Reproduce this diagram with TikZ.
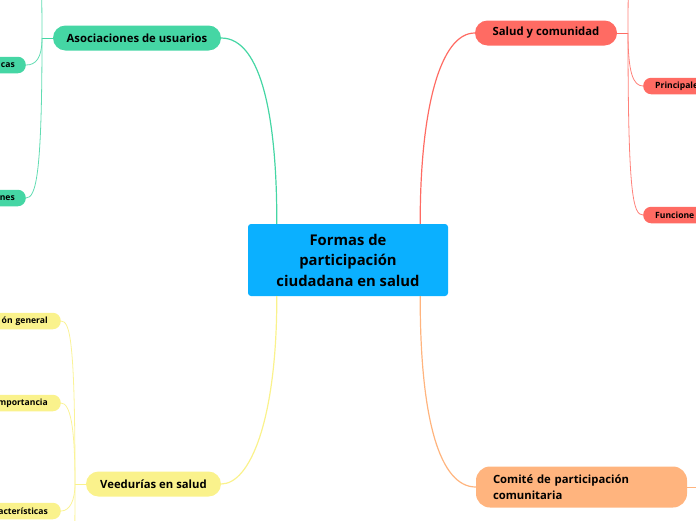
\documentclass[tikz,border=0pt]{standalone}
\usepackage{fontspec}
\setmainfont{Open Sans}
\usetikzlibrary{positioning}

\definecolor{rootblue}{HTML}{0BB0FF}
\definecolor{usergreen}{HTML}{45D6A4}
\definecolor{saludred}{HTML}{FF6B63}
\definecolor{veedyellow}{HTML}{FAF28C}
\definecolor{comiteorange}{HTML}{FFB47E}

\begin{document}
\begin{tikzpicture}[x=1pt, y=-1pt,
    branch/.style={rounded corners=12.5pt, minimum height=25pt, inner sep=0pt,
        font=\bfseries\fontsize{11.3}{13}\selectfont},
    leaf/.style={rounded corners=8pt, minimum height=16.5pt, inner ysep=0pt,
        text width=60pt, font=\bfseries\fontsize{8.6}{10}\selectfont},
    link/.style={line width=1.2pt},
    sublink/.style={line width=0.8pt}]

\useasboundingbox (0,0) rectangle (696,520);
\clip (0,0) rectangle (696,520);

% Central topic
\node[fill=rootblue, rounded corners=3pt, minimum width=200pt, minimum height=72pt,
    align=center, font=\bfseries\fontsize{14.8}{20.5}\selectfont] (root) at (348,260)
    {Formas de\\participación\\ciudadana en salud};

% Main branches
\node[branch, fill=usergreen, minimum width=168pt] (usr) at (137,38) {Asociaciones de usuarios};
\node[branch, fill=saludred, minimum width=142pt] (sal) at (546,33) {Salud y comunidad};
\node[branch, fill=veedyellow, minimum width=135pt] (veed) at (153.5,484) {Veedurías en salud};
\node[branch, fill=comiteorange, rounded corners=14pt, minimum height=41pt, text width=177pt,
    inner xsep=17pt, align=left, font=\bfseries\fontsize{11.3}{15.5}\selectfont] (com) at (581.5,487)
    {Comité de participación\\comunitaria};

\draw[link, usergreen] ([xshift=29pt]root.north west) .. controls (277,120) and (262,38) .. (usr.east);
\draw[link, saludred] ([xshift=-28pt]root.north east) .. controls (420,110) and (440,33) .. (sal.west);
\draw[link, veedyellow] ([xshift=29pt]root.south west) .. controls (277,420) and (250,484) .. (veed.east);
\draw[link, comiteorange] ([xshift=-28pt]root.south east) .. controls (420,420) and (440,487) .. (com.west);

% Asociaciones de usuarios: sub-topics
\coordinate (usrJ) at (42,38);
\coordinate (usrTop) at (26,-110);
\node[leaf, fill=usergreen, anchor=east, inner xsep=11pt, align=right] (usrA) at (26,65) {cas};
\node[leaf, fill=usergreen, anchor=east, inner xsep=11pt, align=right] (usrB) at (26,198) {nes};
\draw[sublink, usergreen] (usr.west) -- (usrJ);
\draw[sublink, usergreen!85] (usrJ) .. controls (42,-80) and (36,-110) .. (usrTop);
\draw[sublink, usergreen!85] (usrJ) .. controls (42,58) and (36,65) .. (usrA.east);
\draw[sublink, usergreen!85] (usrJ) .. controls (42,175) and (36,198) .. (usrB.east);

% Salud y comunidad: sub-topics
\coordinate (salJ) at (628,33);
\coordinate (salTop) at (643,-110);
\node[leaf, fill=saludred, anchor=west, inner xsep=12pt, align=left] (salA) at (643,86) {Principale};
\node[leaf, fill=saludred, anchor=west, inner xsep=12pt, align=left] (salB) at (643,215) {Funcione};
\draw[sublink, saludred] (sal.east) -- (salJ);
\draw[sublink, saludred!85] (salJ) .. controls (628,-80) and (633,-110) .. (salTop);
\draw[sublink, saludred!85] (salJ) .. controls (628,72) and (633,86) .. (salA.west);
\draw[sublink, saludred!85] (salJ) .. controls (628,195) and (633,215) .. (salB.west);

% Veedurías en salud: sub-topics
\coordinate (veedJ) at (75,484);
\coordinate (veedBot) at (61,640);
\node[leaf, fill=veedyellow, anchor=east, inner xsep=13pt, align=right] (veedA) at (61,321) {ón general};
\node[leaf, fill=veedyellow, anchor=east, inner xsep=13pt, align=right] (veedB) at (61,403) {mportancia};
\node[leaf, fill=veedyellow, anchor=east, inner xsep=13pt, align=right] (veedC) at (61,511) {acterísticas};
\draw[sublink, veedyellow] (veed.west) -- (veedJ);
\draw[sublink, veedyellow!90] (veedJ) .. controls (75,340) and (70,321) .. (veedA.east);
\draw[sublink, veedyellow!90] (veedJ) .. controls (75,425) and (70,403) .. (veedB.east);
\draw[sublink, veedyellow!90] (veedJ) .. controls (75,500) and (70,511) .. (veedC.east);
\draw[sublink, veedyellow!90] (veedJ) .. controls (75,620) and (70,640) .. (veedBot);

% Comité: sub-topic stub
\coordinate (comJ) at (700,487);
\draw[sublink, comiteorange] (com.east) -- (comJ);

\end{tikzpicture}
\end{document}
